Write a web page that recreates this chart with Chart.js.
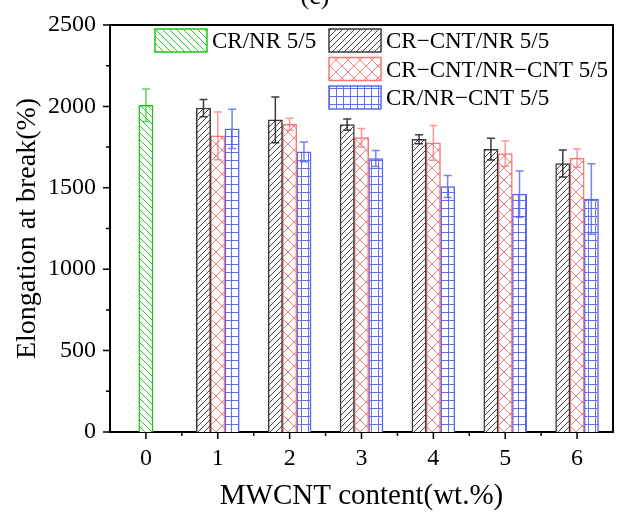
<!DOCTYPE html>
<html><head><meta charset="utf-8">
<script src="https://cdn.jsdelivr.net/npm/chart.js@4.4.0/dist/chart.umd.min.js"></script>
<style>html,body{margin:0;padding:0;background:#fff}canvas{display:block}</style>
</head><body>
<canvas id="c" width="619" height="515"></canvas>
<script>
// ---- data ----
const categories = ['0', '1', '2', '3', '4', '5', '6'];
const seriesNames = ['CR/NR 5/5', 'CR\u2212CNT/NR 5/5', 'CR\u2212CNT/NR\u2212CNT 5/5', 'CR/NR\u2212CNT 5/5'];
const crNr          = [2007, null, null, null, null, null, null];
const crNrErr       = [100,  null, null, null, null, null, null];
const crCntNr       = [null, 1990, 1917, 1888, 1798, 1737, 1649];
const crCntNrErr    = [null, 53,   140,  35,   28,   67,   83];
const crCntNrCnt    = [null, 1819, 1890, 1808, 1776, 1710, 1682];
const crCntNrCntErr = [null, 146,  37,   57,   107,  78,   56];
const crNrCnt       = [null, 1862, 1721, 1680, 1508, 1461, 1431];
const crNrCntErr    = [null, 120,  61,   49,   68,   142,  217];
const yTicks = [0, 500, 1000, 1500, 2000, 2500];
const yMinorTicks = [250, 750, 1250, 1750, 2250];
const titleText = '(c)';
const xTitle = 'MWCNT content(wt.%)';
const yTitle = 'Elongation at break(%)';

const FONT = "'Liberation Serif', 'Times New Roman', serif";

function makePattern(type, color, w, h) {
  const c = document.createElement('canvas');
  c.width = w; c.height = h;
  const g = c.getContext('2d');
  g.fillStyle = '#fff';
  g.fillRect(0, 0, w, h);
  g.strokeStyle = color;
  g.lineWidth = 1;
  g.beginPath();
  if (type === 'back' || type === 'cross') {
    for (let k = -1; k <= 1; k++) { g.moveTo(k * w, 0); g.lineTo(k * w + w, h); }
  }
  if (type === 'fwd' || type === 'cross') {
    for (let k = -1; k <= 1; k++) { g.moveTo(k * w, h); g.lineTo(k * w + w, 0); }
  }
  if (type === 'grid') {
    g.moveTo(0, 0.5); g.lineTo(w, 0.5);
    g.moveTo(0.5, 0); g.lineTo(0.5, h);
  }
  g.stroke();
  return g.createPattern(c, 'repeat');
}

const styles = [
  { border: '#19c719', err: 'rgba(40,200,40,0.75)', pat: makePattern('back', '#22cc22', 7, 7) },
  { border: '#3a3a3a', err: 'rgba(40,40,40,0.9)', pat: makePattern('fwd', '#444444', 6, 6) },
  { border: '#f27777', err: 'rgba(245,110,110,0.7)', pat: makePattern('cross', '#f58080', 12, 12) },
  { border: '#5568f5', err: 'rgba(80,100,245,0.8)', pat: makePattern('grid', '#5f70f5', 7, 8) }
];
const values = [crNr, crCntNr, crCntNrCnt, crNrCnt];
const errors = [crNrErr, crCntNrErr, crCntNrCntErr, crNrCntErr];

const datasets = values.map((v, i) => ({
  label: seriesNames[i],
  data: v,
  backgroundColor: styles[i].pat,
  borderColor: styles[i].border,
  borderWidth: 1.5,
  barThickness: 14.3,
  skipNull: true
}));

const decor = {
  id: 'decor',
  afterDatasetsDraw(chart) {
    const ctx = chart.ctx;
    const ys = chart.scales.y;
    ctx.save();
    ctx.lineWidth = 1.5;
    chart.data.datasets.forEach((ds, i) => {
      const meta = chart.getDatasetMeta(i);
      ctx.strokeStyle = styles[i].err;
      meta.data.forEach((bar, j) => {
        const v = values[i][j];
        const e = errors[i][j];
        if (v === null || e === null) return;
        const x = bar.x;
        const yT = ys.getPixelForValue(v + e);
        const yB = ys.getPixelForValue(v - e);
        ctx.beginPath();
        ctx.moveTo(x, yB); ctx.lineTo(x, yT);
        ctx.moveTo(x - 4, yT); ctx.lineTo(x + 4, yT);
        ctx.moveTo(x - 4, yB); ctx.lineTo(x + 4, yB);
        ctx.stroke();
      });
    });
    ctx.restore();
  },
  afterDraw(chart) {
    const ctx = chart.ctx;
    const { left, right, top, bottom } = chart.chartArea;
    const ys = chart.scales.y, xs = chart.scales.x;
    ctx.save();
    ctx.strokeStyle = '#000';
    // frame top and right
    ctx.lineWidth = 2;
    ctx.beginPath();
    ctx.moveTo(left - 1, top); ctx.lineTo(right + 1, top);
    ctx.moveTo(right, top); ctx.lineTo(right, bottom + 1);
    ctx.stroke();
    // y ticks
    ctx.lineWidth = 1.5;
    ctx.beginPath();
    yTicks.forEach(t => { const y = ys.getPixelForValue(t); ctx.moveTo(left - 7, y); ctx.lineTo(left, y); });
    yMinorTicks.forEach(t => { const y = ys.getPixelForValue(t); ctx.moveTo(left - 4, y); ctx.lineTo(left, y); });
    // x ticks
    categories.forEach((c, i) => {
      const x = xs.getPixelForValue(i);
      ctx.moveTo(x, bottom); ctx.lineTo(x, bottom + 7);
      if (i > 0) {
        const xm = (x + xs.getPixelForValue(i - 1)) / 2;
        ctx.moveTo(xm, bottom); ctx.lineTo(xm, bottom + 4);
      }
    });
    ctx.stroke();
    // legend
    const items = [
      { i: 0, x: 155, y: 29 },
      { i: 1, x: 329, y: 29 },
      { i: 2, x: 329, y: 57.5 },
      { i: 3, x: 329, y: 86 }
    ];
    ctx.font = '23px ' + FONT;
    ctx.textBaseline = 'middle';
    ctx.textAlign = 'left';
    items.forEach(it => {
      const s = styles[it.i];
      ctx.fillStyle = s.pat;
      ctx.fillRect(it.x, it.y, 52, 23);
      ctx.strokeStyle = s.border;
      ctx.lineWidth = 1.5;
      ctx.strokeRect(it.x, it.y, 52, 23);
      ctx.fillStyle = '#000';
      ctx.fillText(seriesNames[it.i], it.x + 57, it.y + 13);
    });
    // cut-off title
    ctx.font = '26px ' + FONT;
    ctx.textAlign = 'center';
    ctx.textBaseline = 'alphabetic';
    ctx.fillText(titleText, 315, 4);
    ctx.restore();
  }
};

new Chart(document.getElementById('c'), {
  type: 'bar',
  data: { labels: categories, datasets },
  options: {
    responsive: false,
    animation: false,
    layout: { padding: { top: 25, right: 6, left: 0, bottom: 0 } },
    plugins: { legend: { display: false }, tooltip: { enabled: false }, title: { display: false } },
    scales: {
      x: {
        type: 'category',
        offset: true,
        grid: { display: false, drawTicks: true, tickLength: 7 },
        border: { display: true, color: '#000', width: 2 },
        ticks: { font: { family: FONT, size: 24 }, color: '#000', padding: 5, maxRotation: 0 },
        title: { display: true, text: xTitle, color: '#000', font: { family: FONT, size: 29 }, padding: { top: 0, bottom: 1 } },
        afterFit(s) { s.height = 83; }
      },
      y: {
        min: 0, max: 2500,
        grid: { display: false, drawTicks: true, tickLength: 7 },
        border: { display: true, color: '#000', width: 2 },
        ticks: { stepSize: 500, font: { family: FONT, size: 24 }, color: '#000', padding: 7, callback: v => String(v) },
        title: { display: true, text: yTitle, color: '#000', font: { family: FONT, size: 28 }, padding: { top: 11, bottom: 0 } },
        afterFit(s) { s.width = 110; }
      }
    }
  },
  plugins: [decor]
});
</script>
</body></html>
